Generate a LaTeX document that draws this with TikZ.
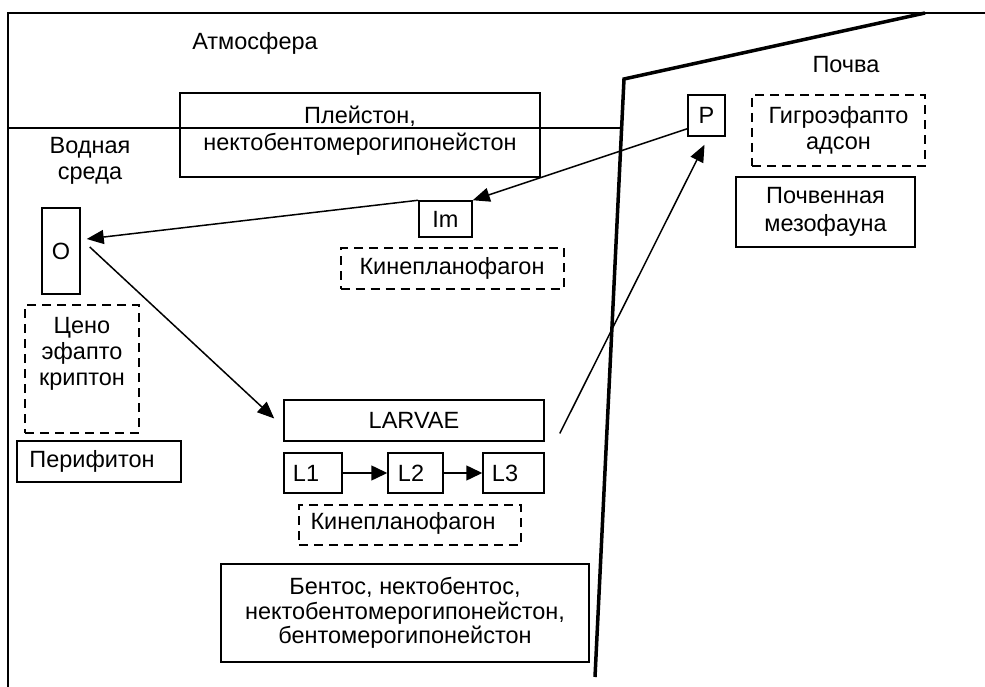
\documentclass[tikz,border=0pt]{standalone}
\usepackage{fontspec}
\setmainfont{Liberation Sans}
\usetikzlibrary{arrows.meta,calc}
\begin{document}
\begin{tikzpicture}[x=1pt,y=-1pt,
  every node/.style={font=\fontsize{23.5}{26}\selectfont, inner sep=0pt, align=center},
  box/.style={draw, line width=1.5pt},
  dbox/.style={draw, line width=2pt, dash pattern=on 9pt off 6pt},
  arr/.style={line width=1.5pt, -{Triangle[length=17pt,width=14pt]}},
  sarr/.style={line width=1.5pt, -{Triangle[length=16pt,width=15pt]}},
  thick line/.style={line width=3.5pt, line join=miter},
  frame/.style={line width=1.3pt}]
\useasboundingbox (0,0) rectangle (985,687);
% frame
\coordinate (fbl) at (8,687);
\coordinate (ftl) at (8,13);
\coordinate (ftr) at (985,13);
\draw[frame] (fbl) -- (ftl) -- (ftr);
% water surface
\coordinate (ws1) at (8,128);
\coordinate (ws2) at (622,128);
\draw[frame] (ws1) -- (ws2);
% soil boundary
\coordinate (sb1) at (595,677);
\coordinate (sb2) at (624,79);
\coordinate (sb3) at (925,13);
\draw[thick line] (sb1) -- (sb2) -- (sb3);
% labels
\node (atm) at (255,43) {Атмосфера};
\node (soil) at (846,65) {Почва};
\node (water) at (90,161) {Водная\\среда};
% boxes
\node[box, minimum width=360, minimum height=84] (plei) at (360,135) {};
\node (pleit) at (360,131) {Плейстон,\\[1pt]нектобентомерогипонейстон};
\node[box, minimum width=38, minimum height=86] (O) at (61,251) {O};
\node[box, minimum width=53, minimum height=36] (Im) at (445.5,219) {Im};
\node[dbox, minimum width=223, minimum height=41] (kin1) at (452,268.5) {Кинепланофагон};
\node[box, minimum width=37, minimum height=41] (P) at (706.5,115.5) {P};
\node[dbox, minimum width=173, minimum height=71] (gig) at (838.5,130.5) {Гигроэфапто\\адсон};
\node[box, minimum width=179, minimum height=70] (meso) at (825.5,212) {Почвенная\\[2pt]мезофауна};
\node[dbox, minimum width=114, minimum height=128] (ceno) at (82,369) {};
\node (cenot) at (82,354) {Цено\\эфапто\\криптон};
\node[box, minimum width=164, minimum height=41] (peri) at (99,461.5) {};
\node (perit) at (92,461) {Перифитон};
\node[box, minimum width=260, minimum height=41] (larv) at (414,420.5) {LARVAE};
\node[box, minimum width=58, minimum height=40] (L1) at (313,473) {};
\node (L1t) at (306,473) {L1};
\node[box, minimum width=55, minimum height=40] (L2) at (415.5,473) {};
\node (L2t) at (411,473) {L2};
\node[box, minimum width=61, minimum height=40] (L3) at (513.5,473) {};
\node (L3t) at (505,473) {L3};
\node[dbox, minimum width=222, minimum height=40] (kin2) at (410,525) {};
\node (kin2t) at (403,523) {Кинепланофагон};
\node[box, minimum width=368, minimum height=98, font=\fontsize{23.5}{24.5}\selectfont] (bent) at (405,613) {Бентос, нектобентос,\\нектобентомерогипонейстон,\\бентомерогипонейстон};
% arrows
\draw[arr] ($(P.south west)+(0,-8)$) -- (Im.north east);
\draw[arr] (Im.north west) -- ($(O.east)+(6,-12)$);
\draw[arr] ($(O.east)+(9,-4)$) -- ($(larv.west)+(-9,-2)$);
\draw[arr] ($(larv.east)+(15,13)$) -- ($(P.south)+(-2,8)$);
\draw[sarr] (L1) -- (L2);
\draw[sarr] (L2) -- (L3);
\end{tikzpicture}
\end{document}
